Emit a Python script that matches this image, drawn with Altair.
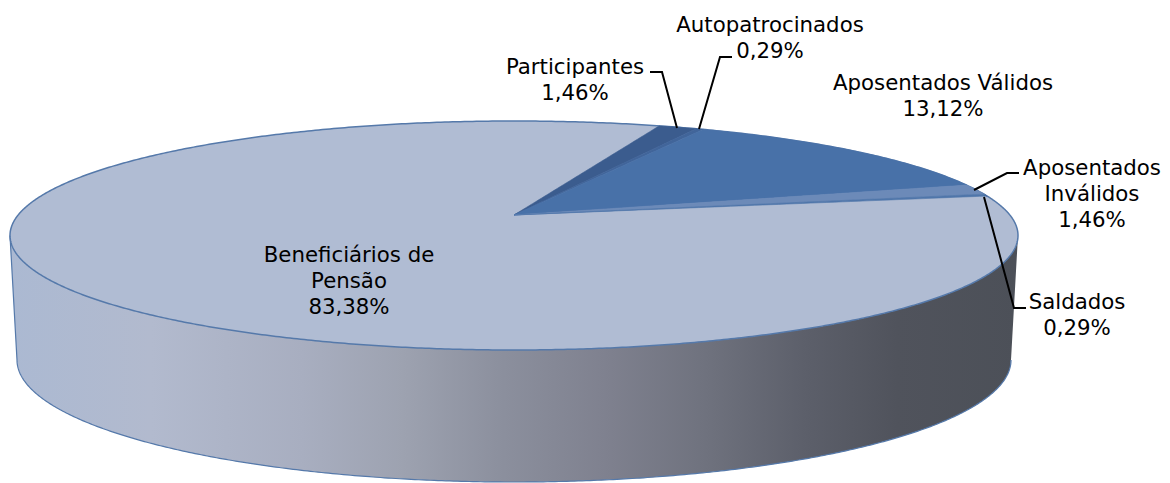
import numpy as np
import pandas as pd
import altair as alt

# --- chart values -------------------------------------------------------
categories = ["Participantes", "Autopatrocinados", "Aposentados Válidos",
              "Aposentados Inválidos", "Saldados", "Beneficiários de Pensão"]
shares = [1.46, 0.29, 13.12, 1.46, 0.29, 83.38]
share_labels = ["1,46%", "0,29%", "13,12%", "1,46%", "0,29%", "83,38%"]
label_lines = [["Participantes"], ["Autopatrocinados"], ["Aposentados Válidos"],
               ["Aposentados", "Inválidos"], ["Saldados"], ["Beneficiários de", "Pensão"]]
slice_colors = ["#3b5c8e", "#41659a", "#4871a8", "#6c8ab8", "#4f76aa", "#b0bcd3"]

# --- layout -------------------------------------------------------------
W, H = 1154, 475
OFF = 8
start_deg = 20.0
CX, APEX_Y = 514.0, 215.0
DISC = dict(cy=235.5, A=504.0, B=114.5)
PROJ = dict(a=496.0, b=110.8, k=0.179)
BASE = dict(cy=360.0, A=497.0, B=122.0)
label_pos = {0: (575, 67.5), 1: (770, 25.5), 2: (943, 83.5), 3: (1092, 168.5), 4: (1077, 302.5), 5: (349, 255.5)}
LINE_H = 26
FONT_SIZE = 21.3
leaders = {
    0: [(650, 72), (662, 72), (677, 128)],
    1: [(732, 57), (720, 57), (699, 129)],
    3: [(1019, 173), (1007, 173), (974, 190)],
    4: [(1026, 308), (1014, 308), (984, 197)],
}
edge_color = "#5579aa"
wall_stops = [(0.0, "#abb9d2"), (0.14, "#b2bace"), (0.29, "#a8aec0"), (0.39, "#9da2b0"),
              (0.49, "#8b8f9d"), (0.59, "#7f818f"), (0.69, "#6f727e"), (0.79, "#5c5f6a"),
              (0.88, "#50535c"), (1.0, "#4c5058")]


def project(theta):
    u, v = np.sin(theta), np.cos(theta)
    d = 1 + PROJ["k"] * v
    return CX + PROJ["a"] * u / d, APEX_Y - PROJ["b"] * v / d


def ellipse_rows():
    t = np.linspace(0, np.pi, 400)
    x = CX - DISC["A"] * np.cos(t)
    h = DISC["B"] * np.sin(t)
    return pd.DataFrame({"x": x, "y": DISC["cy"] - h, "y2": DISC["cy"] + h})


def wedge_rows(a0, a1):
    th = np.linspace(a0, a1, 60)
    ex, ey = project(th)
    ux = np.concatenate([[CX], ex])
    uy = np.concatenate([[APEX_Y], ey])
    xs = np.unique(np.concatenate([np.linspace(CX, ex[-1], 60), ex]))
    upper = np.interp(xs, ux, uy)
    lower = np.interp(xs, [CX, ex[-1]], [APEX_Y, ey[-1]])
    return pd.DataFrame({"x": xs, "y": upper, "y2": lower})


def wall_rows():
    t = np.linspace(0, np.pi, 400)
    x = CX - DISC["A"] * np.cos(t)
    top = DISC["cy"] + DISC["B"] * np.sin(t)
    bx = CX - BASE["A"] * np.cos(t)
    by = BASE["cy"] + BASE["B"] * np.sin(t)
    ex = np.concatenate([[x[0]], bx, [x[-1]]])
    ey = np.concatenate([[DISC["cy"]], by, [DISC["cy"]]])
    wall_area = pd.DataFrame({"x": x, "y": top, "y2": np.interp(x, ex, ey)})
    # the outline runs down the left side and along the bottom; the dark right side has none
    outline = pd.DataFrame({"x": ex[:-1], "y": ey[:-1], "o": range(len(ex) - 1)})
    return wall_area, outline


xs = alt.Scale(domain=[OFF, OFF + W], range=[0, W])
ys = alt.Scale(domain=[OFF, OFF + H], range=[0, H])
X = alt.X("x:Q", scale=xs, axis=None)
Y = alt.Y("y:Q", scale=ys, axis=None)

wall_df, wall_edge = wall_rows()
wall = alt.Chart(wall_df).mark_area(
    color=alt.Gradient(gradient="linear", x1=0, x2=1, y1=0, y2=0,
                       stops=[alt.GradientStop(offset=o, color=c) for o, c in wall_stops])
).encode(x=X, y=Y, y2="y2:Q")
wall_line = alt.Chart(wall_edge).mark_line(color=edge_color, strokeWidth=1.2).encode(x=X, y=Y, order="o:Q")

disc = alt.Chart(ellipse_rows()).mark_area(color=slice_colors[5], stroke=edge_color, strokeWidth=1.5).encode(
    x=X, y=Y, y2="y2:Q")

layers = [wall, wall_line, disc]
angle = np.radians(start_deg)
for i, s in enumerate(shares[:-1]):
    next_angle = angle + np.radians(s * 3.6)
    layers.append(alt.Chart(wedge_rows(angle, next_angle)).mark_area(
        color=slice_colors[i], stroke=slice_colors[i], strokeWidth=0.6).encode(x=X, y=Y, y2="y2:Q"))
    angle = next_angle

leader_rows = [{"g": k, "o": j, "x": p[0], "y": p[1]} for k, pts in leaders.items() for j, p in enumerate(pts)]
layers.append(alt.Chart(pd.DataFrame(leader_rows)).mark_line(color="black", strokeWidth=2).encode(
    x=X, y=Y, detail="g:N", order="o:Q"))

text_rows = []
for i, lines in enumerate(label_lines):
    lx, ly = label_pos[i]
    for j, line in enumerate(lines + [share_labels[i]]):
        text_rows.append({"x": lx, "y": ly + j * LINE_H, "t": line})
layers.append(alt.Chart(pd.DataFrame(text_rows)).mark_text(
    font="DejaVu Sans", fontSize=FONT_SIZE, color="black", align="center", baseline="middle").encode(
    x=X, y=Y, text="t:N"))

chart = alt.layer(*layers).properties(
    width=W, height=H, padding=0, autosize=alt.AutoSizeParams(type="none"), background="white"
).configure_view(stroke=None)

chart.save("out.html", embed_options={"renderer": "svg", "actions": False})
